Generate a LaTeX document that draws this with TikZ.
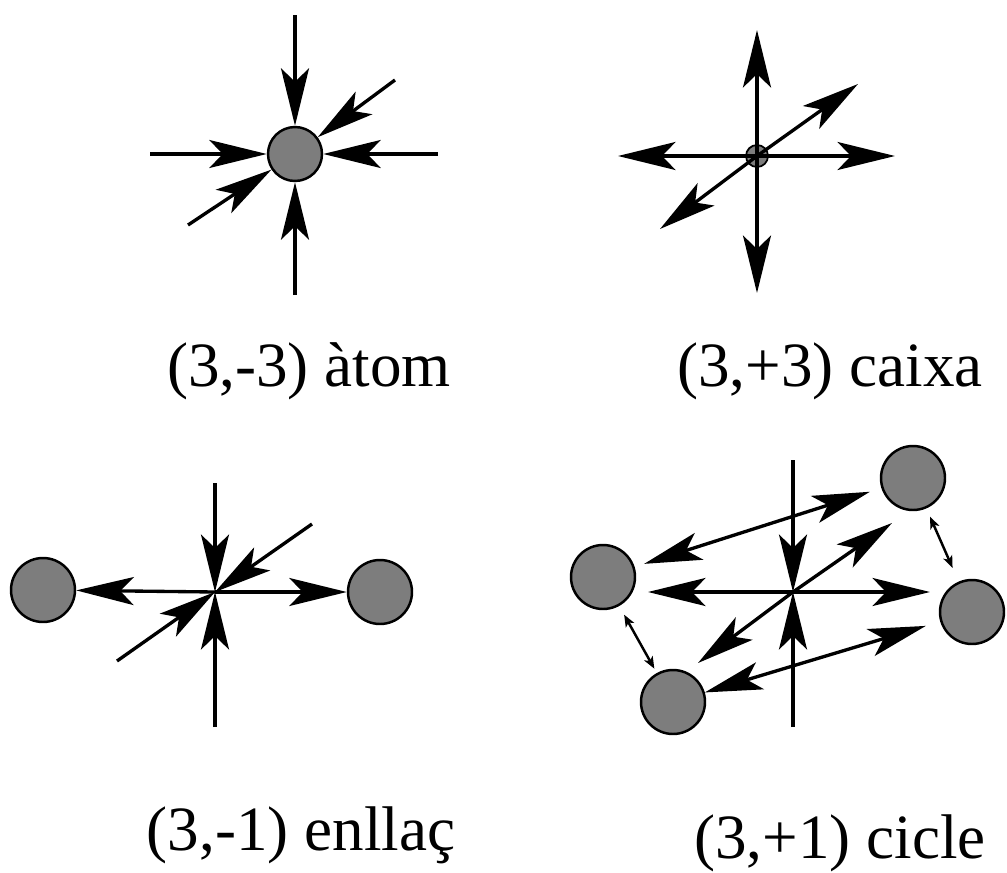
\documentclass[tikz,border=0pt]{standalone}
\usepackage{fontspec}
\setmainfont{Liberation Serif}
\usetikzlibrary{arrows.meta}
\definecolor{grisatom}{RGB}{125,125,125}

\begin{document}
\begin{tikzpicture}[x=0.02cm, y=-0.02cm, line width=1.9pt,
    esfera/.style={circle, draw, line width=1.4pt, fill=grisatom,
                   inner sep=0pt, minimum size=1.28cm},
    fletxa/.style={-{Stealth[length=1.15cm, width=0.56cm, inset=0.27cm]}},
    doble/.style={{Stealth[length=1.15cm, width=0.56cm, inset=0.27cm]}-{Stealth[length=1.15cm, width=0.56cm, inset=0.27cm]}},
    petita/.style={line width=1.4pt,
                   {Stealth[length=0.24cm, width=0.19cm, inset=0.06cm]}-{Stealth[length=0.24cm, width=0.19cm, inset=0.06cm]}},
    etiqueta/.style={anchor=base, font=\fontsize{35.9}{43}\selectfont}]
  \useasboundingbox (0,0) rectangle (1007,872);

  % (3,-3) atom
  \node[esfera, minimum size=1.08cm] (atom) at (295,154) {};
  \coordinate (a1) at (295,15);
  \coordinate (a2) at (295,295);
  \coordinate (a3) at (150,154);
  \coordinate (a4) at (438,154);
  \coordinate (a5) at (188,225);
  \coordinate (a6) at (395,80);
  \foreach \c in {a1,a2,a3,a4,a5,a6}
    \draw[fletxa] (\c) -- (atom);

  % (3,+3) caixa
  \node[esfera, minimum size=0.44cm, line width=1pt] (caixa) at (757,156) {};
  \coordinate (b1) at (757,30);
  \coordinate (b2) at (757,293);
  \coordinate (b3) at (618,156);
  \coordinate (b4) at (895,156);
  \coordinate (b5) at (858,84);
  \coordinate (b6) at (660,229);
  \foreach \c in {b1,b2,b3,b4,b5,b6}
    \draw[fletxa] (caixa.center) -- (\c);

  % (3,-1) enllac
  \coordinate (enllac) at (215,592);
  \node[esfera] (e1) at (43,590) {};
  \node[esfera] (e2) at (380,592) {};
  \coordinate (c1) at (215,483);
  \coordinate (c2) at (215,727);
  \coordinate (c3) at (117,661);
  \coordinate (c4) at (312,524);
  \foreach \c in {c1,c2,c3,c4}
    \draw[fletxa] (\c) -- (enllac);
  \draw[fletxa] (enllac) -- (e1);
  \draw[fletxa] (enllac) -- (e2);

  % (3,+1) cicle
  \coordinate (cicle) at (793,592);
  \node[esfera] (d1) at (603,577) {};
  \node[esfera] (d2) at (913,478) {};
  \node[esfera] (d3) at (972,612) {};
  \node[esfera] (d4) at (673,702) {};
  \coordinate (v1) at (793,460);
  \coordinate (v2) at (793,727);
  \coordinate (h1) at (648,592);
  \coordinate (h2) at (930,592);
  \coordinate (g1) at (892,523);
  \coordinate (g2) at (698,663);
  \draw[fletxa] (v1) -- (cicle);
  \draw[fletxa] (v2) -- (cicle);
  \foreach \c in {h1,h2,g1,g2}
    \draw[fletxa] (cicle) -- (\c);
  \draw[doble, shorten <=0.2cm, shorten >=0.24cm] (d1) -- (d2);
  \draw[doble, shorten >=0.3cm] (d4) -- (d3);
  \draw[petita, shorten <=0.2cm, shorten >=0.1cm] (d1) -- (d4);
  \draw[petita, shorten <=0.18cm, shorten >=0.3cm] (d2) -- (d3);

  % etiquetes
  \node[etiqueta] (t1) at (309,386) {(3,-3) àtom};
  \node[etiqueta] (t2) at (830,386) {(3,+3) caixa};
  \node[etiqueta] (t3) at (301,850) {(3,-1) enllaç};
  \node[etiqueta] (t4) at (840,858) {(3,+1) cicle};
\end{tikzpicture}
\end{document}
